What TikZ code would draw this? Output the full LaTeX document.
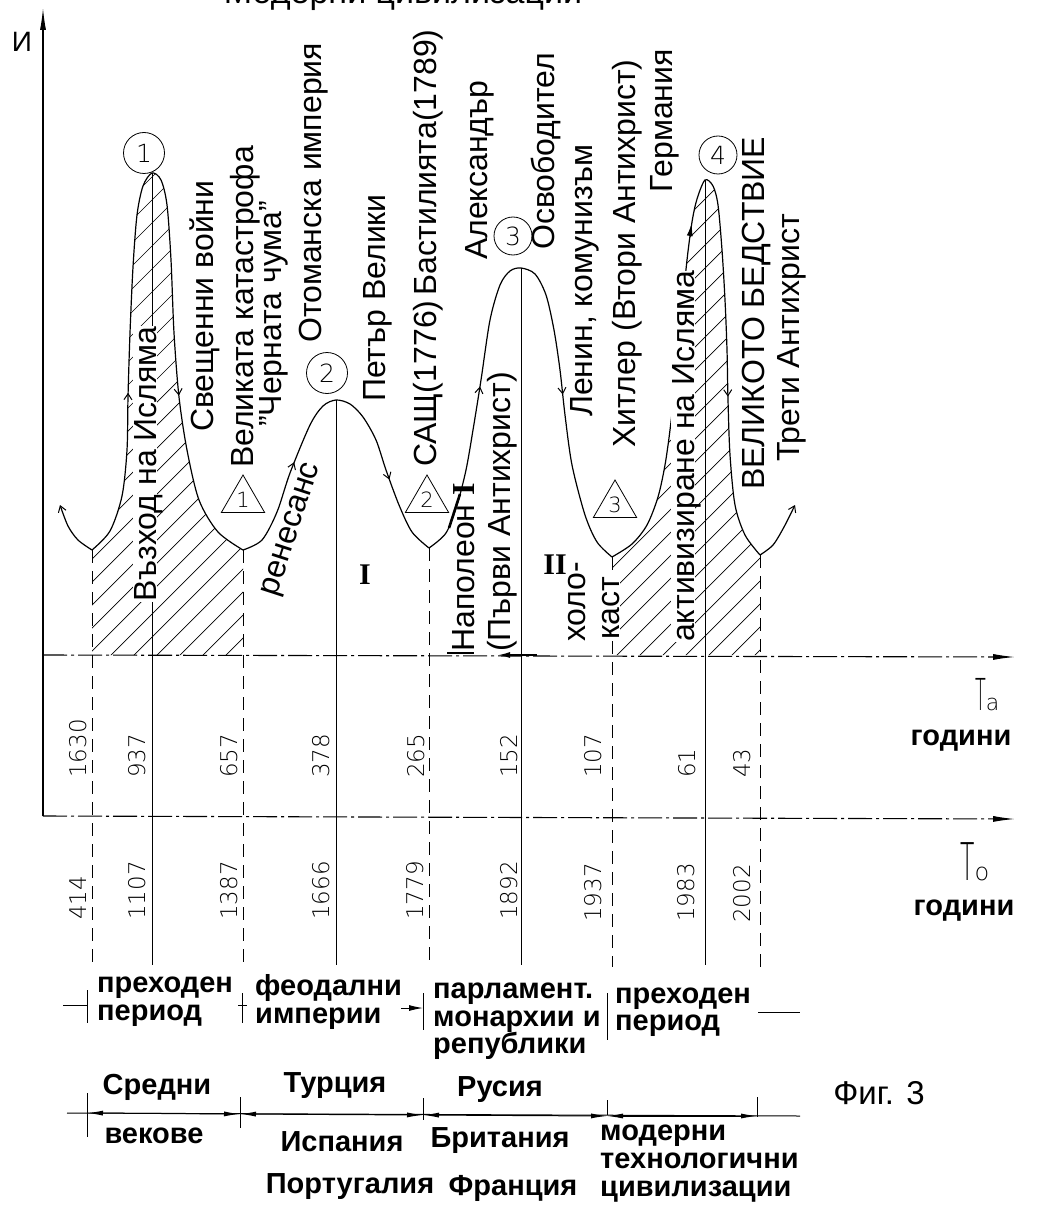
\documentclass[tikz,border=0pt]{standalone}
\usepackage{fontspec}
\setmainfont{Liberation Sans}
\newfontfamily\romfont{Liberation Serif}
\newfontfamily\thinfont{DejaVu Sans ExtraLight}
\usepackage{graphicx}
\usetikzlibrary{arrows.meta,decorations.markings,shapes.geometric}
\tikzset{cbarb/.tip={Straight Barb[length=6pt,width=8pt,line width=1pt]},
  cfill/.tip={Latex[length=13pt,width=6pt]}}
\begin{document}
\begin{tikzpicture}[x=1pt,y=-1pt,
  lab/.style={rotate=90,anchor=west,inner sep=0pt,font=\fontsize{32}{36}\selectfont},
  mlab/.style={lab,fill=white,text height=23pt,text depth=1pt},
  yr/.style={rotate=90,anchor=west,inner sep=0pt,font=\fontsize{23}{26}\selectfont\thinfont},
  bl/.style={anchor=base west,inner sep=0pt,font=\fontsize{29}{29}\selectfont\bfseries},
  cty/.style={anchor=base,inner sep=0pt,font=\fontsize{29}{29}\selectfont\bfseries},
  crv/.style={line width=1.2pt},
  solidv/.style={line width=1pt},
  dashv/.style={line width=1pt,dash pattern=on 13pt off 8pt},
  axisline/.style={line width=1.1pt,dash pattern=on 24pt off 4pt on 3pt off 4pt,-{Latex[length=22pt,width=6pt]}},
  hatchline/.style={line width=0.7pt},
  circnum/.style={circle,draw,line width=0.8pt,minimum size=41pt,inner sep=0pt,font=\fontsize{25}{25}\selectfont\thinfont},
  trinum/.style={regular polygon,regular polygon sides=3,draw,line width=0.8pt,minimum size=50pt,inner sep=0pt,font=\fontsize{21}{21}\selectfont\thinfont},
  roman/.style={inner sep=0pt,font=\fontsize{30}{30}\selectfont\romfont\bfseries},
  twoarr/.style 2 args={postaction={decorate,decoration={markings,
     mark=at position #1 with {\arrow{cbarb}},mark=at position #2 with {\arrow{cbarb}}}}},
  tick/.style={line width=1pt},
  dimarr/.style={line width=1pt,{Latex[length=16pt,width=5pt]}-{Latex[length=16pt,width=5pt]}}
]
\useasboundingbox (0,0) rectangle (1037,1206);

% ---------- hatching ----------
\begin{scope}
\clip (92,655) -- (92,550) -- plot[smooth,tension=0.5] coordinates {(92,550) (110,531) (122,496) (127,450) (128,397) (130,333) (133,267) (137,215) (143,186) (152,173) (161,180) (167,205) (171,260) (174,333) (179,397) (187,450) (199,500) (218,532) (243,550)} -- (243,655) -- cycle;
\foreach \k in {-21,...,7} \draw[hatchline] ({43+23*\k},700) -- ++(560,-560);
\end{scope}
\begin{scope}
\clip (612,655) -- (612,557) -- plot[smooth,tension=0.5] coordinates {(612,557) (632,544) (647,525) (658,497) (665,465) (670,430) (675,385) (681,320) (687,260) (692,222) (697,199) (705,180) (713,186) (718,205) (722,250) (725,300) (727,350) (728,400) (730,455) (735,505) (745,535) (760,555)} -- (760,655) -- cycle;
\foreach \k in {2,...,30} \draw[hatchline] ({43+23*\k},700) -- ++(560,-560);
\end{scope}

% ---------- axes ----------
\coordinate (O) at (43,816);
\coordinate (ytop) at (43,8);
\coordinate (ta0) at (43,655);
\coordinate (taend) at (1015,657);
\coordinate (toend) at (1015,819);
\draw[line width=1.1pt,-{Latex[length=22pt,width=6pt]}] (O) -- (ytop);
\draw[axisline] (ta0) -- (taend);
\draw[axisline] (O) -- (toend);

% ---------- vertical lines ----------
\draw[dashv] (92,550) -- (92,967);
\draw[dashv] (243,550) -- (243,967);
\draw[dashv] (429,548) -- (429,967);
\draw[dashv] (612,557) -- (612,967);
\draw[dashv] (760,555) -- (760,967);
\draw[solidv] (152,173) -- (152,965);
\draw[solidv] (336,400) -- (336,965);
\draw[solidv] (521,268) -- (521,965);
\draw[solidv] (705,180) -- (705,965);

% ---------- curve ----------
\draw[crv,-{cbarb}] plot[smooth,tension=0.5] coordinates {(92,550) (78,540) (68,526) (60,505)};
\draw[crv,twoarr={0.21}{0.78}] plot[smooth,tension=0.5] coordinates {(92,550) (110,531) (122,496) (127,450) (128,397) (130,333) (133,267) (137,215) (143,186) (152,173) (161,180) (167,205) (171,260) (174,333) (179,397) (187,450) (199,500) (218,532) (243,550)};
\draw[crv,twoarr={0.29}{0.78}] plot[smooth,tension=0.5] coordinates {(243,550) (262,540) (277,512) (290,473) (310,425) (323,406) (336,400) (350,404) (363,417) (376,440) (386,470) (399,505) (412,532) (429,548)};
\draw[crv,twoarr={0.28}{0.72}] plot[smooth,tension=0.5] coordinates {(429,548) (446,533) (457,505) (466,470) (473,430) (481,380) (490,320) (500,285) (510,271) (521,268) (535,274) (546,295) (554,330) (560,370) (565,415) (572,465) (585,515) (597,542) (612,557)};
\draw[crv,postaction={decorate,decoration={markings,
   mark=at position 0.45 with {\arrow{cfill}},mark=at position 0.79 with {\arrow{cbarb}}}}]
  plot[smooth,tension=0.5] coordinates {(612,557) (632,544) (647,525) (658,497) (665,465) (670,430) (675,385) (681,320) (687,260) (692,222) (697,199) (705,180) (713,186) (718,205) (722,250) (725,300) (727,350) (728,400) (730,455) (735,505) (745,535) (760,555)};
\draw[crv,-{cbarb}] plot[smooth,tension=0.5] coordinates {(760,555) (773,545) (784,527) (795,505)};
% thickened stroke of the curve next to "Наполеон I"
\draw[line width=2.6pt] (449,528) -- (460,494);

% Napoleon marks on the axis
\draw[line width=2.5pt] (447,653) -- (474,653);
\draw[line width=1.6pt,-{Latex[length=12pt,width=6pt]}] (537,655) -- (498,655);

% ---------- circles and triangles ----------
\node[circnum] (c1) at (144,153) {1};
\node[circnum] (c2) at (327,373) {2};
\node[circnum,minimum size=38pt] (c3) at (513,236) {3};
\node[circnum,minimum size=38pt] (c4) at (718,155) {4};
\node[trinum] (t1) at (243,500) {1};
\node[trinum] (t2) at (427,500) {2};
\node[trinum] (t3) at (615,505) {3};

% ---------- rotated labels ----------
\node[mlab] (islam) at (145,602) {Възход на Исляма};
\node[lab] (wars) at (205,432) {Свещенни войни};
\node[lab] (catast) at (245,468) {Великата катастрофа};
\node[lab] (plague) at (274,427) {”Черната чума”};
\node[lab] (ottoman) at (314,343) {Отоманска империя};
\node[lab] (peter) at (378,402) {Петър Велики};
\node[lab] (usa) at (428,467) {САЩ(1776)\,Бастилията(1789)};
\node[lab] (alex) at (480,260) {Александър};
\node[lab] (napol) at (464,652) {Наполеон {\romfont\bfseries I}};
\node[lab] (first) at (502,652) {(Първи Антихрист)};
\node[lab] (liber) at (546,250) {Освободител};
\node[lab] (lenin) at (585,417) {Ленин, комунизъм};
\node[lab] (hitler) at (627,448) {Хитлер (Втори Антихрист)};
\node[lab] (germ) at (665,193) {Германия};
\node[mlab] (activ) at (683,642) {активизиране на Исляма};
\node[lab] (disaster) at (757,490) {ВЕЛИКОТО БЕДСТВИЕ};
\node[lab] (third) at (792,462) {Трети Антихрист};
\node[lab] (holo) at (577,642) {холо-};
\node[mlab] (kast) at (608,640) {каст};
\node[inner sep=0pt,rotate=72,font=\fontsize{32}{36}\selectfont] (renes) at (293,530) {ренесанс};
\node[roman] (romI) at (365,575) {I};
\node[roman] (romII) at (555,565) {II};

% ---------- year labels ----------
\node[yr] (ta1) at (78,778) {1630};
\node[yr] (ta2) at (137,778) {937};
\node[yr] (ta3) at (229,778) {657};
\node[yr] (ta4) at (321,778) {378};
\node[yr] (ta5) at (416,778) {265};
\node[yr] (ta6) at (509,778) {152};
\node[yr] (ta7) at (593,778) {107};
\node[yr] (ta8) at (687,778) {61};
\node[yr] (ta9) at (742,778) {43};
\node[yr] (to1) at (78,920) {414};
\node[yr] (to2) at (137,920) {1107};
\node[yr] (to3) at (229,920) {1387};
\node[yr] (to4) at (321,920) {1666};
\node[yr] (to5) at (415,920) {1779};
\node[yr] (to6) at (509,920) {1892};
\node[yr] (to7) at (593,922) {1937};
\node[yr] (to8) at (686,922) {1983};
\node[yr] (to9) at (742,923) {2002};

% ---------- axis labels ----------
\node[inner sep=0pt,font=\fontsize{28}{28}\selectfont] (Ilab) at (22,42) {И};
\node[anchor=base west,inner sep=0pt] (Ta) at (975,710) {{\fontsize{44}{44}\selectfont\thinfont\scalebox{0.4}[1]{T}}{\fontsize{22}{22}\selectfont\thinfont a}};
\node[anchor=base west,inner sep=0pt] (To) at (960,880) {{\fontsize{52}{52}\selectfont\thinfont\scalebox{0.45}[1]{T}}{\fontsize{24}{24}\selectfont\thinfont o}};
\node[cty] (yrs1) at (961,745) {години};
\node[cty] (yrs2) at (964,915) {години};
\node[anchor=base,inner sep=0pt,font=\fontsize{33}{33}\selectfont] (fig) at (879,1104) {Фиг. 3};
\node[anchor=base,inner sep=0pt,font=\fontsize{34}{34}\selectfont] (top) at (403,4) {Модерни цивилизации};

% ---------- bottom row 1 ----------
\draw[tick] (63,1005) -- (87,1005);
\draw[tick] (87,990) -- (87,1023);
\draw[tick] (242,993) -- (242,1023);
\draw[tick] (238,1005) -- (247,1005);
\draw[tick] (423,993) -- (423,1030);
\draw[line width=1pt,-{Latex[length=14pt,width=6pt]}] (401,1008) -- (423,1008);
\draw[tick] (607,993) -- (607,1040);
\draw[tick] (758,1012) -- (800,1012);
\node[bl] (p1a) at (97,992) {преходен};
\node[bl] (p1b) at (97,1020) {период};
\node[bl] (f1a) at (255,995) {феодални};
\node[bl] (f1b) at (255,1023) {империи};
\node[bl] (m1a) at (433,998) {парламент.};
\node[bl] (m1b) at (433,1026) {монархии и};
\node[bl] (m1c) at (433,1053) {републики};
\node[bl] (p2a) at (615,1003) {преходен};
\node[bl] (p2b) at (615,1030) {период};

% ---------- bottom row 2 ----------
\coordinate (r0) at (67,1113);
\coordinate (r1) at (87,1113);
\coordinate (r2) at (240,1114);
\coordinate (r3) at (423,1115);
\coordinate (r4) at (607,1116);
\coordinate (r5) at (757,1116);
\coordinate (r6) at (800,1116);
\draw[tick] (r0) -- (r6);
\draw[tick] (87,1093) -- (87,1137);
\draw[tick] (240,1097) -- (240,1128);
\draw[tick] (423,1098) -- (423,1120);
\draw[tick] (607,1100) -- (607,1115);
\draw[tick] (757,1097) -- (757,1117);
\draw[dimarr] (r1) -- (r2);
\draw[dimarr] (r2) -- (r3);
\draw[dimarr] (r3) -- (r4);
\draw[dimarr] (r4) -- (r5);
\node[cty] (sred) at (157,1094) {Средни};
\node[cty] (vek) at (154,1143) {векове};
\node[cty] (turk) at (335,1092) {Турция};
\node[cty] (spain) at (342,1151) {Испания};
\node[cty] (port) at (350,1193) {Португалия};
\node[cty] (rus) at (500,1096) {Русия};
\node[cty] (brit) at (500,1147) {Британия};
\node[cty] (fr) at (513,1195) {Франция};
\node[bl] (mod1) at (600,1140) {модерни};
\node[bl] (mod2) at (600,1168) {технологични};
\node[bl] (mod3) at (600,1196) {цивилизации};
\end{tikzpicture}
\end{document}
